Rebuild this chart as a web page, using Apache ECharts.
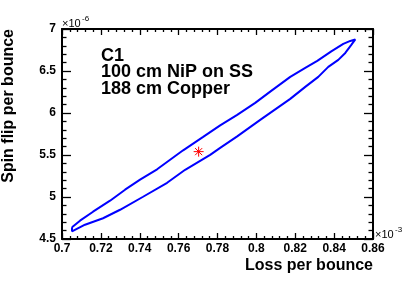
<!DOCTYPE html>
<html>
<head>
<meta charset="utf-8">
<script src="https://cdn.jsdelivr.net/npm/echarts@6/dist/echarts.min.js"></script>
<style>html,body{margin:0;padding:0;background:#fff}#c{width:415px;height:282px}</style>
</head>
<body>
<div id="c"></div>
<script>
// Contour (closed), x in units of 1e-3, y in units of 1e-6
const contourX = [0.70515,0.70927,0.71597,0.72472,0.73245,0.74017,0.74893,0.75562,0.76232,0.77262,0.78137,0.79013,0.79940,0.80764,0.81743,0.82515,0.83133,0.83854,0.84472,0.84833,0.85090,
  0.84884,0.84575,0.84215,0.83700,0.83185,0.82515,0.81743,0.81228,0.80198,0.79013,0.78137,0.77622,0.76335,0.75408,0.74172,0.72987,0.72112,0.71185,0.70515,0.70515];
const contourY = [4.640,4.718,4.825,4.956,5.087,5.206,5.330,5.443,5.556,5.716,5.853,5.978,6.121,6.263,6.430,6.537,6.620,6.733,6.822,6.858,6.876,
  6.810,6.715,6.632,6.549,6.430,6.311,6.168,6.085,5.918,5.722,5.585,5.502,5.324,5.169,5.003,4.848,4.747,4.670,4.592,4.640];
const bestX = [0.7703];
const bestY = [5.54];
const xTickLabels = ['0.7','0.72','0.74','0.76','0.78','0.8','0.82','0.84','0.86'];
const yTickLabels = ['4.5','5','5.5','6','6.5','7'];
const infoLines = ['C1','100 cm NiP on SS','188 cm Copper'];

const FONT = '"Liberation Sans", Arial, Helvetica, sans-serif';
const chart = echarts.init(document.getElementById('c'), null, {renderer:'canvas'});

function fmtX(v){ const s = String(parseFloat(v.toFixed(4))); return xTickLabels.includes(s) ? s : ''; }
function fmtY(v){ const s = String(parseFloat(v.toFixed(4))); return yTickLabels.includes(s) ? s : ''; }

const axisLine = {show:true, lineStyle:{color:'#000', width:2}};
function xAx(pos, showLabel){
  return {type:'value', position:pos, min:0.7, max:0.86, interval:0.02,
    axisLine:axisLine, splitLine:{show:false},
    axisTick:{show:true, inside:true, length:6, lineStyle:{color:'#000', width:1.3}},
    minorTick:{show:true, splitNumber:5, length:3, lineStyle:{color:'#000', width:1.3}},
    axisLabel:{show:showLabel, formatter:fmtX, margin:4, color:'#000', fontFamily:FONT, fontWeight:'bold', fontSize:12, showMinLabel:true, showMaxLabel:true}
  };
}
function yAx(pos, showLabel){
  return {type:'value', position:pos, min:4.5, max:7, interval:0.5,
    axisLine:axisLine, splitLine:{show:false},
    axisTick:{show:true, inside:true, length:9, lineStyle:{color:'#000', width:1.3}},
    minorTick:{show:true, splitNumber:5, length:4.5, lineStyle:{color:'#000', width:1.3}},
    axisLabel:{show:showLabel, formatter:fmtY, margin:6, color:'#000', fontFamily:FONT, fontWeight:'bold', fontSize:12, showMinLabel:true, showMaxLabel:true}
  };
}

const contour = contourX.map((x,i)=>[x, contourY[i]]);
const best = bestX.map((x,i)=>[x, bestY[i]]);

const graphics = [
  {type:'text', x:373, y:266, style:{text:'Loss per bounce', align:'right', verticalAlign:'middle', font:'bold 16px '+FONT, fill:'#000'}},
  {type:'text', x:9, y:29, rotation:Math.PI/2, style:{text:'Spin flip per bounce', align:'right', verticalAlign:'middle', font:'bold 16px '+FONT, fill:'#000'}},
  {type:'text', x:62, y:24, style:{text:'\u00d710', align:'left', verticalAlign:'middle', font:'11px '+FONT, fill:'#000'}},
  {type:'text', x:82, y:19, style:{text:'-6', align:'left', verticalAlign:'middle', font:'8px '+FONT, fill:'#000'}},
  {type:'text', x:375, y:235, style:{text:'\u00d710', align:'left', verticalAlign:'middle', font:'11px '+FONT, fill:'#000'}},
  {type:'text', x:395, y:230, style:{text:'-3', align:'left', verticalAlign:'middle', font:'8px '+FONT, fill:'#000'}}
];
const infoY = [56, 72.5, 89];
infoLines.forEach((t,i)=>graphics.push({type:'text', x:101, y:infoY[i], style:{text:t, align:'left', verticalAlign:'middle', font:'bold 18px '+FONT, fill:'#000'}}));

chart.setOption({
  animation:false,
  backgroundColor:'#fff',
  grid:{left:62, top:29, right:42, bottom:43, containLabel:false},
  xAxis:[xAx('bottom', true), xAx('top', false)],
  yAxis:[yAx('left', true), yAx('right', false)],
  series:[
    {type:'line', name:'contour', xAxisIndex:0, yAxisIndex:0, data:contour, symbol:'none', smooth:false,
      lineStyle:{color:'#0000ff', width:2}, z:3},
    {type:'custom', name:'best', xAxisIndex:0, yAxisIndex:0, data:best, z:4,
      renderItem:function(params, api){
        const p = api.coord([api.value(0), api.value(1)]);
        const r = 5, d = r*0.7071;
        const segs = [[-r,0,r,0],[0,-r,0,r],[-d,-d,d,d],[-d,d,d,-d]];
        return {type:'group', children: segs.map(s=>({type:'line', shape:{x1:p[0]+s[0], y1:p[1]+s[1], x2:p[0]+s[2], y2:p[1]+s[3]}, style:{stroke:'#ff0000', lineWidth:1}}))};
      }}
  ],
  graphic:graphics
});
</script>
</body>
</html>
